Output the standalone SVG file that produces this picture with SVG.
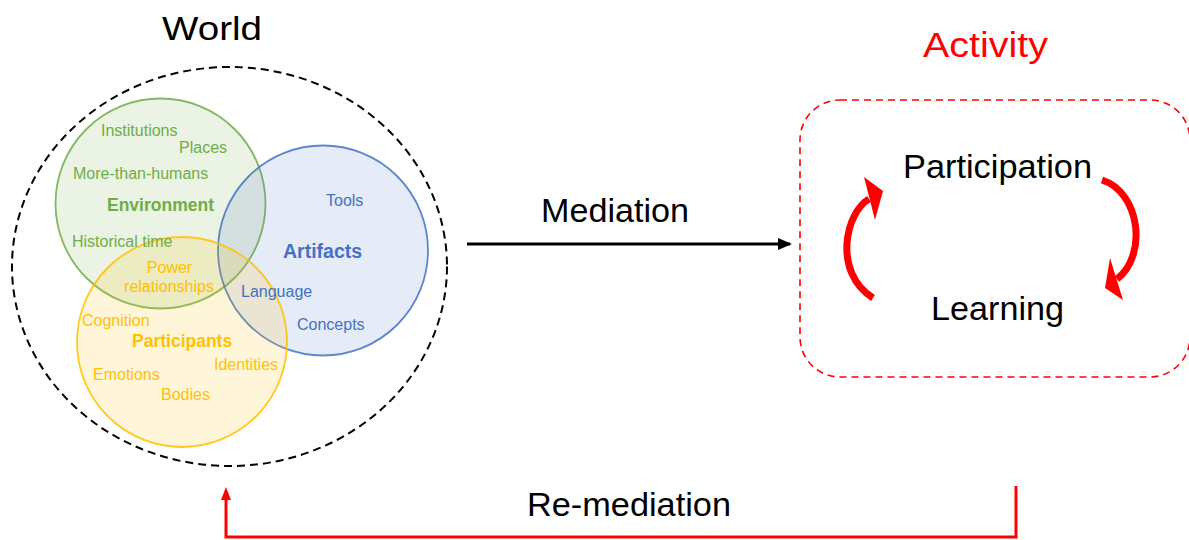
<svg xmlns="http://www.w3.org/2000/svg" width="1189" height="540" viewBox="0 0 1189 540">
<style>
.t{font-family:"Liberation Sans",Arial,sans-serif}
.s{font-size:16px}
.b{font-weight:bold}
.g{fill:#70AD47}
.bl{fill:#4472C4}
.y{fill:#FFC000}
.big{font-size:34px;fill:#000}
</style>
<defs>
<marker id="ah" markerWidth="14" markerHeight="12" refX="12" refY="6" orient="auto" markerUnits="userSpaceOnUse">
<path d="M0,0 L14,6 L0,12 Z" fill="#000"/>
</marker>
</defs>
<rect width="1189" height="540" fill="#fff"/>

<g id="world">
<ellipse cx="229.5" cy="266.5" rx="217.5" ry="199.5" fill="none" stroke="#000" stroke-width="2" stroke-dasharray="8,5"/>
<text class="t" x="212" y="40" text-anchor="middle" font-size="34" textLength="100" lengthAdjust="spacingAndGlyphs">World</text>
</g>

<g id="environment">
<circle cx="160.5" cy="203.5" r="105" fill="#70AD47" fill-opacity="0.15" stroke="#70AD47" stroke-width="1.8" stroke-opacity="0.85"/>
</g>
<g id="artifacts">
<circle cx="323" cy="250.5" r="105" fill="#4472C4" fill-opacity="0.14" stroke="#4472C4" stroke-width="1.8" stroke-opacity="0.85"/>
</g>
<g id="participants">
<circle cx="182" cy="342" r="105" fill="#FFC000" fill-opacity="0.15" stroke="#FFC000" stroke-width="1.8" stroke-opacity="0.85"/>
</g>

<g id="labels">
<text class="t s g" x="101" y="136">Institutions</text>
<text class="t s g" x="179" y="153">Places</text>
<text class="t s g" x="73" y="179">More-than-humans</text>
<text class="t b g" x="107" y="211" font-size="17.5">Environment</text>
<text class="t s g" x="72" y="247">Historical time</text>
<text class="t s bl" x="326" y="206">Tools</text>
<text class="t b bl" x="283" y="258" font-size="19.5">Artifacts</text>
<text class="t s bl" x="241" y="297">Language</text>
<text class="t s bl" x="297" y="330">Concepts</text>
<text class="t s y" x="169.5" y="273" text-anchor="middle">Power</text>
<text class="t s y" x="169" y="292" text-anchor="middle">relationships</text>
<text class="t s y" x="82" y="326">Cognition</text>
<text class="t b y" x="132" y="347" font-size="17.5">Participants</text>
<text class="t s y" x="214" y="370">Identities</text>
<text class="t s y" x="93" y="380">Emotions</text>
<text class="t s y" x="161" y="400">Bodies</text>
</g>

<g id="activity">
<rect x="800" y="100" width="390" height="277" rx="40" ry="40" fill="none" stroke="#FF0000" stroke-width="1.6" stroke-dasharray="7,5"/>
<text class="t" x="985.5" y="57" text-anchor="middle" font-size="35" fill="#FF0000" textLength="125" lengthAdjust="spacingAndGlyphs">Activity</text>
</g>
<g id="participation">
<text class="t big" x="997.5" y="178" text-anchor="middle" textLength="189" lengthAdjust="spacingAndGlyphs">Participation</text>
</g>
<g id="learning">
<text class="t big" x="997.5" y="320" text-anchor="middle" textLength="133" lengthAdjust="spacingAndGlyphs">Learning</text>
</g>

<g id="connectors">
<path d="M873,298 C832,272 846,212 869,199" fill="none" stroke="#FF0000" stroke-width="7"/>
<polygon points="864,177 883,191 875,220" fill="#FF0000"/>
<path d="M1102,180 C1140,192 1148,255 1117,279" fill="none" stroke="#FF0000" stroke-width="7"/>
<polygon points="1110,258 1105,288 1123,300" fill="#FF0000"/>

<line x1="467" y1="244" x2="790" y2="244" stroke="#000" stroke-width="3" marker-end="url(#ah)"/>
<text class="t big" x="615" y="222" text-anchor="middle" textLength="148" lengthAdjust="spacingAndGlyphs">Mediation</text>

<path d="M1016,486 V537 H226 V498" fill="none" stroke="#FF0000" stroke-width="3"/>
<polygon points="226,487 221,500 231,500" fill="#FF0000"/>
<text class="t big" x="629" y="516" text-anchor="middle" textLength="204" lengthAdjust="spacingAndGlyphs">Re-mediation</text>
</g>
</svg>
